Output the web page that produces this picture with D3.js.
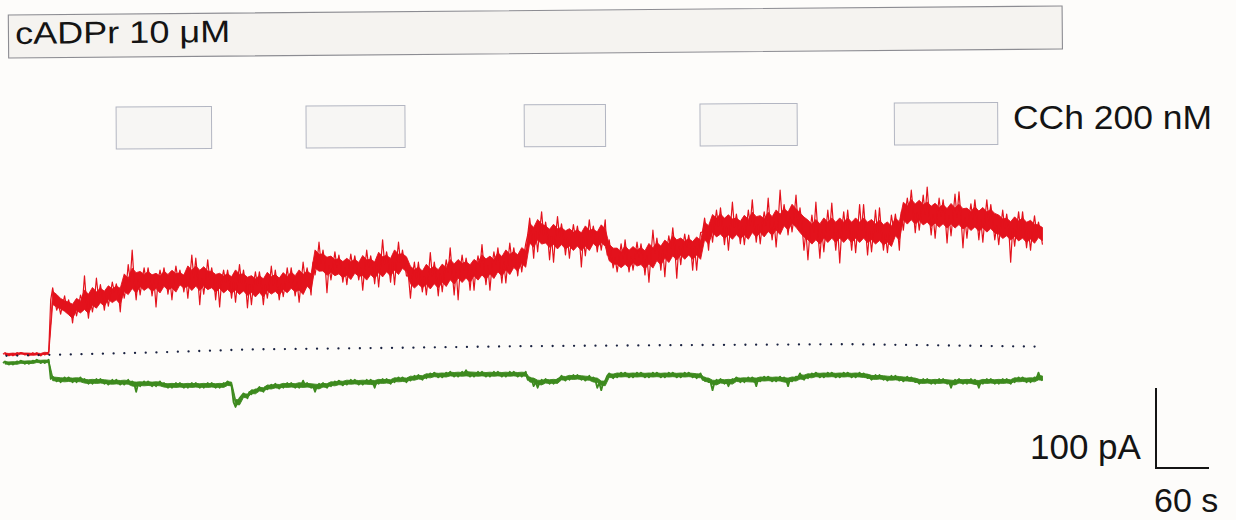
<!DOCTYPE html>
<html>
<head>
<meta charset="utf-8">
<script src="https://cdn.jsdelivr.net/npm/d3@7"></script>
<style>
  html, body { margin: 0; padding: 0; background: #fdfcfa; }
  svg { display: block; }
  text { font-family: "Liberation Sans", Arial, Helvetica, sans-serif; fill: #141414; }
</style>
</head>
<body>
<svg id="chart" width="1236" height="520"></svg>
<script>
// Whole-cell current recording, decimated to 9 s bins.
// For every bin: the running level (mid) and the highest / lowest excursion (hi / lo), in pA.
const binSeconds = 9;

const redMid = [
  1, 1, 2, 1, 1, 2,
  69, 63, 59, 61, 66, 69, 73, 76, 79, 86,
  93, 94, 93, 93, 94, 94, 95, 96, 96, 95,
  94, 93, 91, 91, 90, 88, 88, 88, 88, 89,
  91, 91, 95, 116, 115, 111, 110, 109, 109, 109,
  110, 113, 114, 116, 116, 99, 96, 98, 99, 101,
  104, 106, 106, 109, 110, 111, 114, 116, 118, 123,
  150, 154, 150, 148, 148, 146, 146, 146, 148, 148,
  125, 121, 121, 123, 123, 124, 128, 131, 134, 135,
  135, 135, 154, 163, 161, 160, 160, 160, 163, 163,
  163, 166, 171, 173, 163, 154, 154, 156, 156, 156,
  156, 156, 156, 154, 153, 151, 159, 179, 179, 178,
  176, 175, 174, 174, 173, 171, 170, 169, 168, 161,
  159, 158, 156, 155, 154
];
const redHi = [
  3, 3, 3, 3, 3, 4,
  84, 74, 69, 75, 99, 96, 88, 91, 89, 113,
  131, 109, 109, 106, 109, 111, 106, 125, 121, 119,
  109, 106, 106, 113, 106, 104, 104, 111, 106, 109,
  109, 116, 109, 141, 131, 129, 125, 126, 124, 131,
  124, 144, 129, 141, 131, 116, 116, 128, 116, 119,
  134, 125, 121, 124, 138, 129, 134, 140, 134, 139,
  171, 179, 166, 173, 164, 163, 161, 169, 161, 169,
  144, 139, 144, 141, 139, 156, 146, 149, 159, 151,
  150, 153, 171, 181, 184, 191, 176, 181, 194, 179,
  196, 206, 188, 200, 184, 175, 191, 181, 190, 179,
  181, 188, 188, 181, 184, 175, 176, 196, 206, 200,
  210, 196, 194, 201, 204, 189, 194, 194, 188, 181,
  176, 179, 179, 174, 166
];
const redLo = [
  -1, -1, 0, -1, -1, 0,
  56, 51, 40, 49, 46, 54, 56, 61, 54, 71,
  69, 75, 74, 60, 76, 69, 79, 71, 63, 76,
  69, 60, 71, 66, 59, 63, 63, 71, 69, 73,
  74, 66, 75, 100, 78, 94, 91, 88, 94, 81,
  89, 85, 91, 88, 99, 71, 79, 75, 74, 79,
  75, 69, 81, 81, 88, 81, 90, 90, 99, 104,
  121, 129, 119, 116, 125, 121, 110, 124, 129, 131,
  109, 104, 104, 106, 100, 91, 106, 98, 96, 113,
  106, 106, 131, 141, 138, 131, 139, 138, 141, 139,
  144, 135, 150, 154, 131, 119, 121, 129, 131, 115,
  131, 128, 125, 129, 131, 128, 131, 156, 153, 156,
  150, 146, 140, 149, 134, 146, 144, 141, 144, 138,
  116, 136, 134, 131, 138
];

const greenMid = [
  -10, -10, -9, -9, -8, -8,
  -30, -31, -31, -31, -33, -33, -33, -34, -34, -34,
  -36, -36, -36, -36, -38, -38, -38, -38, -38, -38,
  -38, -38, -36, -59, -51, -46, -43, -40, -39, -38,
  -38, -38, -38, -39, -38, -36, -35, -34, -34, -34,
  -34, -33, -33, -31, -31, -29, -28, -26, -25, -25,
  -24, -24, -24, -24, -24, -24, -24, -24, -24, -24,
  -31, -34, -33, -33, -29, -28, -28, -29, -31, -35,
  -26, -25, -25, -25, -25, -25, -25, -25, -25, -25,
  -25, -26, -31, -34, -33, -33, -31, -31, -31, -30,
  -30, -30, -31, -30, -28, -26, -25, -25, -25, -25,
  -25, -25, -26, -28, -28, -29, -29, -30, -31, -33,
  -33, -33, -33, -34, -33, -33, -34, -33, -33, -33,
  -33, -31, -31, -31, -29
];
const greenHi = [
  -8, -8, -7, -7, -6, -6,
  -27, -28, -28, -28, -30, -30, -30, -31, -31, -31,
  -33, -33, -33, -33, -35, -35, -35, -35, -35, -35,
  -35, -35, -33, -54, -48, -43, -40, -37, -36, -35,
  -35, -32, -35, -36, -35, -33, -32, -31, -31, -31,
  -31, -30, -30, -28, -28, -26, -25, -23, -22, -22,
  -21, -21, -19, -21, -21, -21, -21, -21, -21, -21,
  -28, -31, -30, -30, -26, -25, -25, -26, -28, -32,
  -23, -22, -22, -22, -22, -22, -22, -22, -22, -22,
  -22, -23, -28, -31, -30, -30, -28, -28, -28, -27,
  -27, -27, -28, -27, -23, -23, -22, -22, -22, -22,
  -22, -22, -23, -25, -25, -26, -26, -27, -28, -30,
  -30, -30, -30, -31, -30, -30, -31, -30, -30, -30,
  -30, -28, -28, -28, -22
];
const greenLo = [
  -12, -12, -11, -11, -10, -10,
  -33, -34, -34, -34, -36, -36, -36, -37, -37, -37,
  -46, -39, -39, -39, -41, -41, -41, -41, -41, -41,
  -41, -41, -39, -65, -54, -49, -46, -43, -42, -41,
  -41, -41, -41, -46, -41, -39, -38, -37, -37, -37,
  -41, -36, -36, -34, -34, -32, -31, -29, -28, -28,
  -27, -27, -27, -27, -27, -27, -27, -27, -27, -27,
  -39, -41, -36, -36, -32, -31, -31, -32, -41, -44,
  -29, -28, -28, -28, -28, -28, -28, -28, -28, -28,
  -28, -29, -34, -44, -36, -39, -34, -34, -39, -33,
  -33, -33, -39, -33, -31, -29, -28, -28, -28, -28,
  -28, -28, -29, -31, -31, -32, -32, -33, -34, -36,
  -36, -36, -36, -41, -36, -36, -41, -36, -36, -36,
  -36, -34, -34, -34, -32
];

// Zero-current reference (dotted line), time in s and current in pA
const baselineTime = [4, 166, 280, 449, 585, 789, 959, 1168];
const baselineCurrent = [-1, 3, 7, 9, 11, 12.5, 13.5, 10.5];

// Drug applications, start / end in s
const cadprWindow = [6, 1199];
const cchWindows = [[128, 236], [343, 455], [590, 682], [789, 899], [1009, 1126]];
const cadprLabel = "cADPr 10 \u03bcM";
const cchLabel = "CCh 200 nM";

// Calibration bars
const scaleCurrent = 100;   // pA
const scaleTime = 60;       // s
const scaleCurrentLabel = "100 pA";
const scaleTimeLabel = "60 s";

const svg = d3.select("#chart");

const x = d3.scaleLinear().domain([0, 60]).range([3, 56]);
const y = d3.scaleLinear().domain([0, 100]).range([355, 275]);

// ---- application bars ----
const cadpr = svg.append("g").attr("transform", "rotate(-0.49, 8, 15)");
cadpr.append("rect")
  .attr("x", x(cadprWindow[0])).attr("y", 15)
  .attr("width", x(cadprWindow[1]) - x(cadprWindow[0])).attr("height", 43)
  .attr("fill", "#f5f3f0").attr("stroke", "#8c8c92").attr("stroke-width", 1.1);
cadpr.append("text")
  .attr("x", 15).attr("y", 44)
  .attr("font-size", 31)
  .attr("textLength", 215).attr("lengthAdjust", "spacingAndGlyphs")
  .text(cadprLabel);

const cch = svg.append("g").attr("transform", "rotate(-0.3, 116, 107)");
cch.selectAll("rect").data(cchWindows).join("rect")
  .attr("x", d => x(d[0])).attr("y", 107)
  .attr("width", d => x(d[1]) - x(d[0])).attr("height", 42)
  .attr("fill", "#f7f6f4").attr("stroke", "#b3b6c2").attr("stroke-width", 1);
svg.append("text")
  .attr("x", 1013).attr("y", 129)
  .attr("font-size", 33)
  .attr("textLength", 199).attr("lengthAdjust", "spacingAndGlyphs")
  .text(cchLabel);

// ---- traces ----
// spikes: each bin goes level -> one extreme -> level -> other extreme
function tracePoints(mid, hi, lo) {
  const pts = [];
  mid.forEach((m, i) => {
    const t = i * binSeconds;
    const a = i % 2 ? lo[i] : hi[i];
    const b = i % 2 ? hi[i] : lo[i];
    pts.push([t, m], [t + binSeconds * 0.25, a], [t + binSeconds * 0.5, m], [t + binSeconds * 0.75, b]);
  });
  return pts;
}
// dense core of the noise: a share of each bin's excursion, capped
function bandPoints(mid, hi, lo, share, cap) {
  const pts = [];
  mid.forEach((m, i) => {
    const t = i * binSeconds;
    const up = Math.min(cap, hi[i] - m), dn = Math.min(cap, m - lo[i]);
    pts.push([t + binSeconds * 0.25, m + up * share[0], m - dn * share[1]]);
    pts.push([t + binSeconds * 0.75, m + up * share[1], m - dn * share[0]]);
  });
  return pts;
}

const line = d3.line().x(d => x(d[0])).y(d => y(d[1]));
const area = d3.area().x(d => x(d[0])).y0(d => y(d[2])).y1(d => y(d[1]));

function drawTrace(mid, hi, lo, share, cap, color, width) {
  const g = svg.append("g");
  g.append("path").attr("d", area(bandPoints(mid, hi, lo, share, cap)))
    .attr("fill", color).attr("stroke", color).attr("stroke-width", 0.9)
    .attr("stroke-linejoin", "round");
  g.append("path").attr("d", line(tracePoints(mid, hi, lo)))
    .attr("fill", "none").attr("stroke", color)
    .attr("stroke-width", width).attr("stroke-linejoin", "round");
}

drawTrace(greenMid, greenHi, greenLo, [0.85, 0.7], 4, "#3d8a1e", 1.8);
drawTrace(redMid, redHi, redLo, [0.7, 0.45], 22, "#e3121c", 1.2);

// dotted zero-current line
svg.append("path")
  .attr("d", d3.line().x(d => x(d[0])).y(d => y(d[1]))(baselineTime.map((t, i) => [t, baselineCurrent[i]])))
  .attr("fill", "none").attr("stroke", "#1a2240").attr("stroke-width", 2.3)
  .attr("stroke-linecap", "round").attr("stroke-dasharray", "0.01 10.7");

// ---- calibration bars ----
const sbX = 1156, sbY = 468;
svg.append("path")
  .attr("d", `M${sbX},${sbY - (y(0) - y(scaleCurrent))}V${sbY}H${sbX + x(scaleTime) - x(0)}`)
  .attr("fill", "none").attr("stroke", "#141414").attr("stroke-width", 2);
svg.append("text").attr("x", 1030).attr("y", 459).attr("font-size", 35).text(scaleCurrentLabel);
svg.append("text").attr("x", 1154).attr("y", 512).attr("font-size", 34).text(scaleTimeLabel);
</script>
</body>
</html>
